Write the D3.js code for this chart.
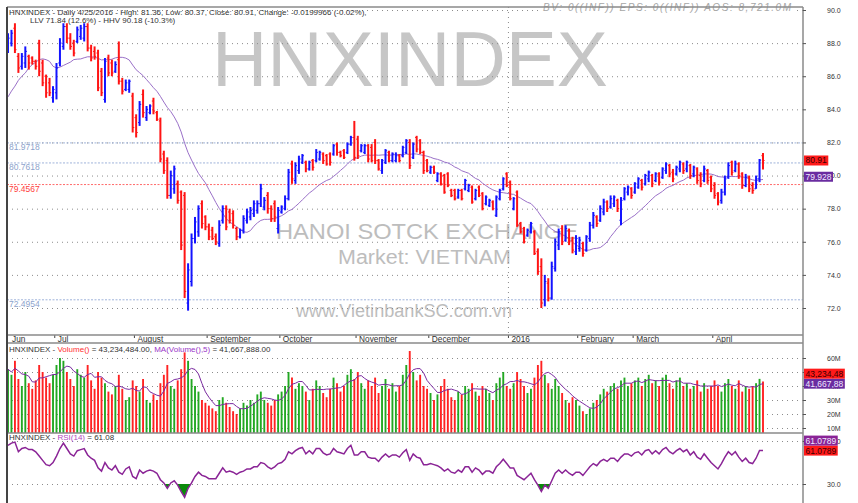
<html>
<head>
<meta charset="utf-8">
<script src="https://d3js.org/d3.v7.min.js"></script>
<style>
  body { margin: 0; background: #fff; }
  svg { display: block; font-family: "Liberation Sans", Arial, sans-serif; }
  .gridlines line { stroke: #8c8c8c; stroke-dasharray: 1,4; }
  .gridlines .domain { stroke: none; }
  .raxis .domain { stroke: none; }
  .raxis line { stroke: #555; }
</style>
</head>
<body>
<div id="chart"></div>
<script>
// daily bars, 6/2015 .. 4/25/2016 (one line per month)
const openP = [
  87.6,88.0,88.9,87.2,86.6,86.8,87.2,87.1,86.9,88.0,86.8,86.0,85.6,84.7,
  85.0,86.8,87.8,89.0,88.3,88.0,88.1,88.4,88.3,89.0,87.7,87.5,87.4,86.3,84.6,87.1,86.8,86.3,87.0,85.7,85.2,85.2,84.8,
  83.5,83.2,84.9,83.5,83.8,84.5,83.8,83.3,81.3,80.9,78.8,79.2,79.5,79.0,78.8,72.3,73.6,76.2,76.6,78.3,77.5,
  76.9,76.7,76.3,75.9,77.3,78.0,77.8,77.7,76.8,76.3,76.7,77.3,77.5,77.7,77.9,78.3,78.1,78.8,78.0,78.3,76.8,
  77.8,78.0,78.6,80.7,79.7,80.3,80.8,80.8,80.4,80.9,80.9,81.0,81.3,81.2,81.3,81.3,81.9,81.4,81.5,81.4,81.9,82.3,
  82.2,81.5,81.4,81.8,81.7,82.0,80.9,80.3,80.8,81.4,80.9,80.9,81.2,81.2,81.4,82.0,81.1,82.3,82.1,81.4,80.9,
  80.2,80.5,79.7,80.1,80.0,80.1,79.1,79.1,78.7,79.1,79.2,79.1,79.3,78.6,79.3,78.9,78.3,78.2,78.4,77.6,78.6,79.2,80.1,
  79.6,78.0,79.0,77.1,76.8,76.4,76.6,76.6,75.4,74.5,72.5,73.5,72.6,74.4,75.8,76.8,76.1,76.7,76.1,75.4,
  75.6,75.9,75.5,76.2,77.0,77.5,77.3,77.8,78.4,78.1,78.3,78.5,77.3,78.6,79.0,79.2,
  79.0,79.3,79.7,79.5,79.8,80.0,79.7,80.1,79.9,80.3,80.6,80.2,80.1,80.4,80.7,80.4,80.6,80.1,80.4,80.0,79.7,80.3,79.9,
  79.4,78.9,78.5,79.0,79.9,80.8,80.3,80.7,80.1,79.4,79.9,79.4,79.2,79.8,81.2
];
const highP = [
  88.6,88.8,89.2,87.4,87.4,87.8,87.3,87.2,87.0,88.2,87.0,86.1,85.9,85.4,
  86.8,88.3,89.2,89.2,88.6,88.2,89.0,89.1,89.2,89.2,87.9,87.8,87.6,86.5,87.1,87.3,87.0,86.9,88.1,85.9,85.8,85.8,85.0,
  83.7,84.5,85.2,84.2,84.3,84.7,83.9,83.5,81.5,81.1,80.3,80.6,79.7,79.1,79.0,74.7,76.5,77.5,78.2,78.5,77.6,
  77.1,76.9,76.5,77.3,78.2,78.2,78.0,77.9,76.9,76.8,77.6,78.0,78.1,78.5,78.5,79.5,78.7,79.0,78.2,78.5,78.1,
  78.2,78.8,80.4,80.9,80.8,81.2,81.3,80.9,80.9,81.0,81.6,81.5,81.4,81.3,81.4,81.9,82.0,81.5,81.6,82.0,82.4,83.3,
  82.4,81.9,81.9,81.9,81.9,82.2,81.0,81.0,81.6,81.5,81.4,81.4,81.3,81.8,82.2,82.2,82.0,82.4,82.2,81.5,81.0,
  80.6,80.6,80.2,80.2,80.1,80.2,79.2,79.2,79.2,79.2,79.8,79.5,79.4,79.2,79.4,79.0,78.8,78.6,78.5,78.8,79.2,79.9,80.2,
  79.7,78.7,79.1,77.2,76.9,76.8,77.2,76.7,75.6,75.0,74.0,73.8,74.8,76.2,76.8,77.0,77.0,76.8,76.3,76.4,
  76.3,76.0,76.4,77.2,77.8,77.6,78.2,78.6,78.5,78.8,78.8,78.6,78.7,79.3,79.4,79.3,
  79.6,79.9,79.8,80.1,80.3,80.1,80.2,80.2,80.5,80.8,80.7,80.4,80.6,80.9,80.8,80.9,80.7,80.6,80.5,80.2,80.6,80.4,80.0,
  79.6,79.0,79.2,80.0,80.8,80.9,80.9,80.8,80.2,80.1,80.0,79.6,80.0,81.0,81.36
];
const lowP = [
  87.4,87.8,87.4,86.2,86.4,86.5,86.4,86.7,86.4,86.0,85.4,84.7,84.8,84.4,
  84.6,86.6,87.6,88.0,87.6,87.2,88.0,88.2,88.1,87.5,86.9,87.0,85.1,84.8,84.4,86.0,86.0,86.2,85.5,84.9,85.1,85.0,82.6,
  82.3,83.0,83.5,83.3,83.7,83.7,83.3,80.8,80.1,78.6,78.6,78.9,78.3,75.5,72.6,71.84,73.3,75.9,76.3,76.8,76.7,
  76.1,76.1,75.8,75.7,77.1,76.7,77.1,76.8,76.1,76.2,76.5,77.1,77.3,77.5,77.7,78.1,77.9,77.7,77.2,77.2,76.5,
  77.7,77.9,78.5,79.5,79.5,80.1,80.7,80.2,80.3,80.3,80.8,80.9,80.7,80.6,80.6,81.2,81.2,81.1,81.0,81.3,81.8,80.9,
  81.0,81.4,81.3,80.8,80.8,80.7,80.3,80.1,80.7,80.8,80.8,80.8,80.8,81.1,81.3,80.4,81.0,81.4,81.3,80.1,80.2,
  80.1,80.1,79.6,79.4,78.9,79.3,78.7,78.5,78.6,78.5,79.1,79.0,78.3,78.5,78.7,77.9,78.2,78.1,77.9,77.5,78.5,79.1,79.3,
  78.5,77.9,76.9,76.5,75.9,76.3,76.5,75.2,74.0,72.0,72.1,72.4,72.5,74.2,75.5,75.8,76.0,75.8,75.3,75.2,
  75.4,75.1,75.4,76.0,76.8,76.9,77.2,77.6,77.8,78.0,78.1,77.8,77.0,78.5,78.8,78.6,
  78.9,79.2,79.1,79.4,79.6,79.3,79.6,79.4,79.8,80.1,79.9,79.6,80.0,80.2,80.1,80.2,79.8,79.9,79.5,79.3,79.6,79.5,79.0,
  78.6,78.2,78.3,78.8,79.8,80.0,80.2,79.8,79.2,79.3,79.0,78.9,79.2,79.6,80.37
];
const closeP = [
  88.3,88.6,87.6,86.5,87.2,87.5,86.8,86.9,86.6,86.3,85.6,85.0,85.0,85.2,
  86.5,88.0,89.0,88.3,87.8,87.4,88.8,88.9,89.0,87.7,87.1,87.2,85.3,85.0,86.9,86.2,86.2,86.7,85.7,85.1,85.6,85.7,82.9,
  82.6,84.3,83.8,84.0,84.2,83.9,83.4,81.0,80.3,78.8,80.0,80.4,78.5,75.8,73.0,74.3,76.2,77.2,78.0,77.1,76.9,
  76.3,76.2,76.0,77.0,78.0,76.9,77.3,77.0,76.3,76.7,77.4,77.8,77.9,78.3,78.3,79.2,78.5,78.0,77.4,77.5,77.9,
  78.1,78.6,80.2,79.8,80.6,81.0,81.2,80.4,80.8,80.5,81.4,81.4,80.9,80.7,80.8,81.8,81.4,81.2,81.1,81.9,82.3,81.1,
  81.2,81.8,81.8,81.0,80.9,80.9,80.4,80.9,81.5,80.9,81.3,81.2,80.9,81.7,82.1,80.6,81.9,81.6,81.4,80.3,80.3,
  80.5,80.2,80.1,79.5,79.0,79.4,78.8,78.6,79.1,78.6,79.7,79.4,78.4,79.1,78.8,78.0,78.7,78.5,78.0,78.7,79.1,79.8,79.4,
  78.6,78.6,77.0,76.6,76.0,76.7,77.1,75.3,74.2,72.3,73.6,72.6,74.5,76.0,76.6,76.0,76.8,76.0,75.5,76.2,
  76.1,75.3,76.3,77.0,77.6,77.1,78.0,78.4,78.0,78.6,78.7,78.0,78.5,79.2,79.3,78.8,
  79.5,79.8,79.3,80.0,80.2,79.5,80.1,79.6,80.4,80.7,80.1,79.8,80.5,80.8,80.3,80.8,80.0,80.5,79.7,79.5,80.4,79.7,79.2,
  78.8,78.4,79.0,79.8,80.6,80.2,80.7,80.0,79.4,79.9,79.2,79.1,79.8,80.93,80.91
];
// volume, millions
const volumeM = [
  52,48,58,45,40,50,42,38,44,55,50,46,42,48,
  55,60,58,50,45,40,52,48,46,55,44,38,50,46,42,36,34,40,48,38,30,32,44,
  40,36,45,30,28,34,30,42,48,55,40,38,44,52,64,58,45,40,36,30,28,
  26,24,22,30,32,28,25,22,20,24,28,26,30,28,34,36,30,28,26,30,34,
  36,40,50,46,38,42,40,36,30,38,44,40,35,32,38,46,42,36,40,48,52,45,
  50,42,38,44,40,46,35,40,45,38,42,36,40,48,55,65,50,44,48,40,38,
  35,30,34,40,45,38,32,30,36,34,40,38,42,36,33,40,38,35,30,42,46,50,40,
  38,42,50,45,40,35,38,46,55,58,48,42,38,45,40,35,30,28,32,30,
  26,22,20,24,28,30,34,38,36,40,42,38,44,46,40,42,
  44,46,40,45,48,42,44,40,46,48,42,38,44,46,40,42,38,40,44,36,42,38,40,
  44,40,36,42,45,40,38,44,36,40,38,40,42,45.1,43.234
];
// RSI(14)
const rsiVals = [
  66,68,69,60,63,64,62,62,60,56,52,48,47,50,
  56,63,68,63,58,56,61,62,63,57,54,52,45,42,50,45,43,47,41,39,44,46,37,
  35,43,40,42,43,42,40,34,31,26,31,33,29,23,17.6,26,31,37,41,38,37,
  35,35,35,40,45,41,42,41,39,41,42,44,44,46,46,50,49,46,44,46,49,
  50,53,60,58,61,63,64,58,61,58,63,63,59,57,58,63,60,59,58,63,66,57,
  57,60,60,55,54,54,51,55,58,55,57,57,55,59,62,52,58,55,54,48,48,
  49,48,47,45,42,44,41,40,43,41,46,46,41,45,43,39,42,42,40,46,49,53,49,
  45,45,38,36,34,37,40,34,29,23,29,26,33,40,43,40,43,40,38,41,
  41,38,42,46,49,47,51,53,51,54,54,51,55,58,58,56,
  59,60,57,61,62,58,61,58,62,64,60,58,61,63,60,62,57,60,55,53,58,54,50,
  47,44,49,55,60,57,60,55,51,54,50,49,54,61.2,61.08
];
// moving average before enough bars exist
const maStart = [84.75,85.1,85.4,85.75,86.0,86.2,86.5,86.7,86.85,87.0,87.05,87.0,86.9,86.6,86.5,86.55,86.65,86.75,86.85];

const monthLabels = ['Jun','Jul','August','September','October','November','December','2016','February','March','April'];
const monthStart = [0,14,37,58,79,101,122,145,165,181,204];
const priceTicks = [72,74,76,78,80,82,84,86,88,90];
const volTicks = [10,20,30,40,50,60];
const rsiTicks = [30,70];
const levelVals = [81.9718, 80.7618, 79.4567, 72.4954];
const levelKind = ['blue','blue','red','blue'];

const svg = d3.select('#chart').append('svg').attr('width', 858).attr('height', 503);

const left = 7, right = 803;
const mainTop = 7, mainBot = 335, axisBot = 343, volBot = 433, rsiBot = 503;

const x = d3.scaleLinear().domain([0, closeP.length - 1]).range([8, 763]);
const step = x(1) - x(0);
const yP = d3.scaleLinear().domain([72, 90]).range([308, 10]);
const yV = d3.scaleLinear().domain([10, 60]).range([428, 358]);
const yR = d3.scaleLinear().domain([30, 70]).range([484, 441]);

const defs = svg.append('defs');
function clip(id, y0, y1) {
  defs.append('clipPath').attr('id', id).append('rect')
    .attr('x', left).attr('y', y0).attr('width', right - left).attr('height', y1 - y0);
}
clip('cMain', mainTop, mainBot);
clip('cVol', axisBot, volBot);
clip('cRsi', volBot, rsiBot);
clip('cRsiLow', yR(30), rsiBot);
clip('cRsiHigh', volBot, yR(70));

// ---------- main pane ----------
const main = svg.append('g').attr('clip-path', 'url(#cMain)');

main.append('text').attr('x', 212).attr('y', 86).attr('font-size', 78)
  .attr('textLength', 396).attr('lengthAdjust', 'spacingAndGlyphs')
  .attr('fill', '#c6c6c6').text('HNXINDEX');
main.append('text').attr('x', 276).attr('y', 238.5).attr('font-size', 22)
  .attr('textLength', 302).attr('lengthAdjust', 'spacingAndGlyphs')
  .attr('fill', '#bdbdbd').text('HANOI SOTCK EXCHANGE');
main.append('text').attr('x', 338).attr('y', 263.5).attr('font-size', 20)
  .attr('textLength', 173).attr('lengthAdjust', 'spacingAndGlyphs')
  .attr('fill', '#bdbdbd').text('Market: VIETNAM');
main.append('text').attr('x', 296).attr('y', 317).attr('font-size', 19)
  .attr('textLength', 216).attr('lengthAdjust', 'spacingAndGlyphs')
  .attr('fill', '#bdbdbd').text('www.VietinbankSC.com.vn');

main.append('g').attr('class', 'gridlines')
  .attr('transform', `translate(${right},0)`)
  .call(d3.axisRight(yP).tickValues(priceTicks).tickSize(-(right - left)).tickFormat(''));

// year separator
main.append('line')
  .attr('x1', x(monthStart[7]) - step / 2).attr('x2', x(monthStart[7]) - step / 2)
  .attr('y1', mainTop).attr('y2', mainBot)
  .attr('stroke', '#8c8c8c').attr('stroke-dasharray', '1,4');

levelVals.forEach((v, i) => {
  const col = levelKind[i] === 'red' ? '#ff6a6a' : '#9fb3da';
  main.append('line').attr('x1', left).attr('x2', right)
    .attr('y1', yP(v)).attr('y2', yP(v))
    .attr('stroke', col).attr('stroke-dasharray', '2,1.5');
  main.append('text').attr('x', 9).attr('y', yP(v) + 7.5)
    .attr('font-size', 8.5)
    .attr('fill', levelKind[i] === 'red' ? '#ff4040' : '#8da3cc')
    .text(v.toFixed(4));
});

const maLine = closeP.map((c, i) => i < maStart.length ? maStart[i] : d3.mean(closeP.slice(i - 19, i + 1)));
main.append('path').datum(maLine)
  .attr('d', d3.line().x((d, i) => x(i)).y(d => yP(d)))
  .attr('fill', 'none').attr('stroke', '#9a70c8').attr('stroke-width', 1);

closeP.forEach((c, i) => {
  const col = c >= openP[i] ? '#1414ff' : '#ff1414';
  const cx = x(i);
  main.append('line').attr('x1', cx).attr('x2', cx)
    .attr('y1', yP(highP[i])).attr('y2', yP(lowP[i]))
    .attr('stroke', col).attr('stroke-width', 2);
  main.append('line').attr('x1', cx - 1.6).attr('x2', cx)
    .attr('y1', yP(openP[i])).attr('y2', yP(openP[i]))
    .attr('stroke', col).attr('stroke-width', 1);
  main.append('line').attr('x1', cx).attr('x2', cx + 1.6)
    .attr('y1', yP(c)).attr('y2', yP(c))
    .attr('stroke', col).attr('stroke-width', 1);
});

// headers
svg.append('text').attr('x', 9).attr('y', 14.5).attr('font-size', 8).attr('fill', '#333')
  .text('HNXINDEX - Daily 4/25/2016 - High: 81.36, Low: 80.37, Close: 80.91, Change: -0.0199966 (-0.02%),');
svg.append('text').attr('x', 30).attr('y', 22.5).attr('font-size', 8).attr('fill', '#333')
  .text('LLV 71.84 (12.6%) - HHV 90.18 (-10.3%)');
svg.append('rect').attr('x', 541).attr('y', 3).attr('width', 254).attr('height', 9).attr('fill', '#fff');
svg.append('text').attr('x', 543).attr('y', 11).attr('font-size', 10)
  .attr('font-style', 'italic').attr('fill', '#a6a6a6')
  .attr('textLength', 248).attr('lengthAdjust', 'spacing')
  .text('BV: 0((INF))     EPS: 0((INF))   AOS: 8,721.0M');

// ---------- date band ----------
monthStart.forEach((m, i) => {
  const tx = x(m) - step / 2;
  if (i > 0) {
    svg.append('line').attr('x1', tx).attr('x2', tx).attr('y1', mainBot).attr('y2', mainBot + 3)
      .attr('stroke', '#444');
  }
  svg.append('text').attr('x', i === 0 ? 12 : tx + 3).attr('y', 341.5)
    .attr('font-size', 8.3).attr('fill', '#333').text(monthLabels[i]);
});

// ---------- volume pane ----------
const vol = svg.append('g').attr('clip-path', 'url(#cVol)');
vol.append('g').attr('class', 'gridlines')
  .attr('transform', `translate(${right},0)`)
  .call(d3.axisRight(yV).tickValues(volTicks).tickSize(-(right - left)).tickFormat(''));
volumeM.forEach((v, i) => {
  vol.append('line').attr('x1', x(i)).attr('x2', x(i))
    .attr('y1', yV(v)).attr('y2', volBot)
    .attr('stroke', closeP[i] >= openP[i] ? '#22a822' : '#ff2222').attr('stroke-width', 1.9);
});
const volMa = volumeM.map((v, i) => d3.mean(volumeM.slice(Math.max(0, i - 4), i + 1)));
vol.append('path').datum(volMa)
  .attr('d', d3.line().x((d, i) => x(i)).y(d => yV(d)))
  .attr('fill', 'none').attr('stroke', '#7a2aa0').attr('stroke-width', 1);

const vh = svg.append('text').attr('x', 9).attr('y', 352).attr('font-size', 8).attr('fill', '#333');
vh.append('tspan').text('HNXINDEX - ');
vh.append('tspan').attr('fill', '#ff3030').text('Volume()');
vh.append('tspan').text(' = 43,234,484.00, ');
vh.append('tspan').attr('fill', '#9a35c8').text('MA(Volume(),5)');
vh.append('tspan').text(' = 41,667,888.00');

// ---------- RSI pane ----------
const rsi = svg.append('g').attr('clip-path', 'url(#cRsi)');
rsi.append('g').attr('class', 'gridlines')
  .attr('transform', `translate(${right},0)`)
  .call(d3.axisRight(yR).tickValues(rsiTicks).tickSize(-(right - left)).tickFormat(''));
const rArea = d3.area().x((d, i) => x(i)).y1(d => yR(d));
rsi.append('path').datum(rsiVals).attr('d', rArea.y0(yR(30)))
  .attr('fill', '#0a8a0a').attr('clip-path', 'url(#cRsiLow)');
rsi.append('path').datum(rsiVals).attr('d', rArea.y0(yR(70)))
  .attr('fill', '#ff2020').attr('clip-path', 'url(#cRsiHigh)');
rsi.append('path').datum(rsiVals)
  .attr('d', d3.line().x((d, i) => x(i)).y(d => yR(d)))
  .attr('fill', 'none').attr('stroke', '#8a2496').attr('stroke-width', 1.5);

const rh = svg.append('text').attr('x', 9).attr('y', 440).attr('font-size', 8).attr('fill', '#333');
rh.append('tspan').text('HNXINDEX - ');
rh.append('tspan').attr('fill', '#b045c0').text('RSI(14)');
rh.append('tspan').text(' = 61.08');

// ---------- frame ----------
const frame = svg.append('g').attr('stroke', '#8a8a8a').attr('stroke-width', 1.5);
frame.append('line').attr('x1', left).attr('x2', right).attr('y1', mainTop).attr('y2', mainTop);
frame.append('line').attr('x1', left).attr('x2', right).attr('y1', mainBot).attr('y2', mainBot);
frame.append('line').attr('x1', left).attr('x2', right).attr('y1', axisBot).attr('y2', axisBot);
frame.append('line').attr('x1', left).attr('x2', right).attr('y1', volBot).attr('y2', volBot);
frame.append('line').attr('x1', right).attr('x2', right).attr('y1', mainTop).attr('y2', rsiBot);
svg.append('line').attr('x1', left).attr('x2', left).attr('y1', mainTop).attr('y2', rsiBot)
  .attr('stroke', '#444').attr('stroke-width', 2);

// ---------- right axes ----------
function rightAxis(scale, ticks, fmt) {
  svg.append('g').attr('class', 'raxis')
    .attr('transform', `translate(${right},0)`)
    .call(d3.axisRight(scale).tickValues(ticks).tickSize(3).tickPadding(21).tickFormat(fmt))
    .attr('font-size', 7).attr('font-family', '"Liberation Sans", Arial, sans-serif')
    .selectAll('text').attr('fill', '#333');
}
rightAxis(yP, priceTicks, d3.format('.1f'));
rightAxis(yV, volTicks, d => d + 'M');
rightAxis(yR, rsiTicks, d3.format('.1f'));

// value tags on the right edge
function tags(list) {
  let prevTop = null;
  list.forEach(t => {
    let cy = t.y;
    if (prevTop !== null && cy + 5 > prevTop) cy = prevTop - 5;
    prevTop = cy - 5;
    const g = svg.append('g');
    const r = g.append('rect').attr('x', 804).attr('y', cy - 5).attr('height', 10).attr('fill', t.bg);
    const tx = g.append('text').attr('x', 805.5).attr('y', cy + 3).attr('font-size', 8.5)
      .attr('fill', t.fg).text(t.label);
    r.attr('width', tx.node().getComputedTextLength() + 3);
  });
}
tags([{ y: yP(80.91), label: '80.91', bg: '#ff1a1a', fg: '#3a0000' }]);
tags([{ y: yP(79.928), label: '79.928', bg: '#6a2ca0', fg: '#f0e8ff' }]);
tags([
  { y: yV(41.668), label: '41,667,88', bg: '#6a2ca0', fg: '#f0e8ff' },
  { y: yV(43.234), label: '43,234,48', bg: '#ff1a1a', fg: '#3a0000' }
]);
tags([
  { y: yR(61.0789), label: '61.0789', bg: '#ff1a1a', fg: '#3a0000' },
  { y: yR(61.0789), label: '61.0789', bg: '#8a2496', fg: '#f0e8ff' }
]);
</script>
</body>
</html>
